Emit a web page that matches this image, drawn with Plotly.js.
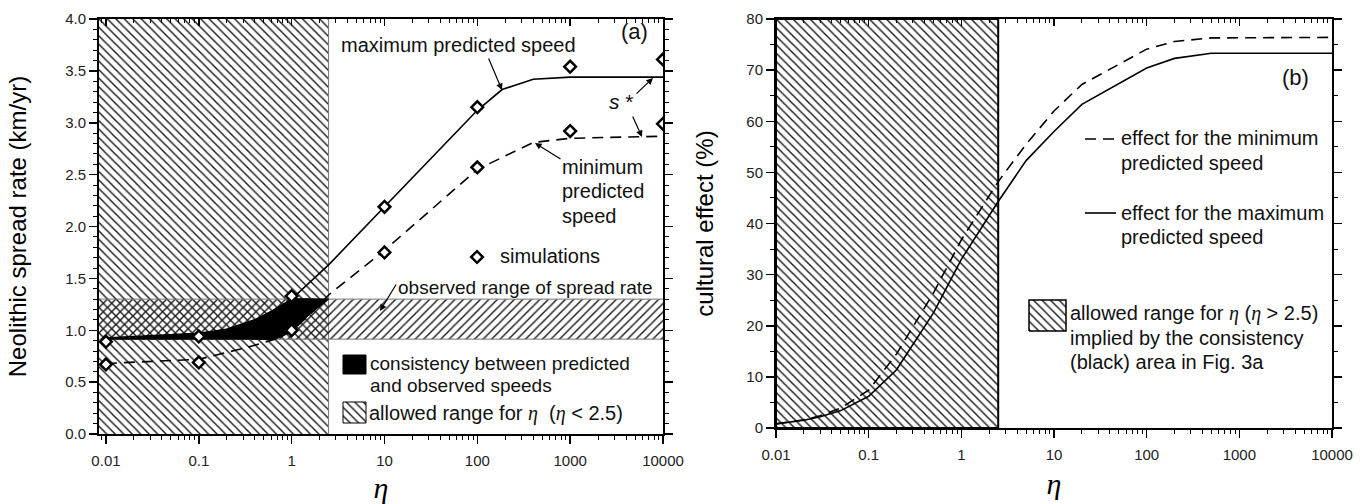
<!DOCTYPE html>
<html><head><meta charset="utf-8">
<script src="https://cdn.plot.ly/plotly-3.0.1.min.js"></script>
<style>body{margin:0;background:#fff}#chart{width:1372px;height:504px}</style>
</head><body><div id="chart"></div>
<script>
// ---------- data, panel (a) ----------
const etaSim   = [0.01, 0.1, 1, 10, 100, 1000, 10000];
const simUpper = [0.89, 0.94, 1.33, 2.19, 3.15, 3.54, 3.61];
const simLower = [0.67, 0.69, 1.00, 1.75, 2.57, 2.92, 2.99];
const etaMax   = [0.01, 0.1, 0.2, 0.4, 0.6, 0.84, 1, 2.5, 10, 100, 185, 400, 1000, 10000];
const speedMax = [0.925, 0.97, 1.01, 1.10, 1.18, 1.26, 1.30, 1.63, 2.19, 3.12, 3.32, 3.42, 3.44, 3.44];
const etaMin   = [0.01, 0.1, 0.35, 0.66, 1, 1.6, 2.5, 10, 100, 400, 1000, 10000];
const speedMin = [0.68, 0.72, 0.84, 0.914, 0.99, 1.16, 1.34, 1.77, 2.55, 2.81, 2.85, 2.87];
const observedRange = [0.914, 1.30];
const etaLimit = 2.5;
// ---------- data, panel (b) ----------
const etaB      = [0.01, 0.02, 0.03, 0.05, 0.1, 0.2, 0.5, 1, 2.5, 5, 10, 20, 100, 200, 500, 10000];
const effectMax = [0.8, 1.5, 2.2, 3.4, 6.2, 11.4, 22.5, 33.0, 44.3, 52.3, 58.0, 63.3, 70.4, 72.3, 73.3, 73.3];
const effectMin = [0.8, 1.6, 2.4, 3.9, 7.4, 14.5, 26.4, 36.8, 48.2, 55.5, 62.0, 67.2, 74.1, 75.6, 76.3, 76.4];
// ---------- ticks ----------
const majorVals = [0.01, 0.1, 1, 10, 100, 1000, 10000];
const majorText = ['0.01', '0.1', '1', '10', '100', '1000', '10000'];

const minorVals = [];
for (let d = -3; d <= 4; d++) for (let k = 2; k <= 9; k++) minorVals.push(k * Math.pow(10, d));

// ---------- geometry ----------
const W = 1372, H = 504, ml = 99, mr = 40, mt = 19, mb = 70;
const pw = W - ml - mr, ph = H - mt - mb;
const PX = x => (x - ml) / pw;
const PY = y => (H - mb - y) / ph;
const xRangeA = [-2.075, 4], xRangeB = [-2, 4];
const yRangeA = [0, 4], yRangeB = [0, 80];

const FONT = 'Arial, "Liberation Sans", sans-serif';
const SERIF = '"Liberation Serif", "Times New Roman", serif';
const ETA = '<span style="font-family:\'Liberation Serif\',serif"><i>η</i></span>';

function hatch(shape, size) {
  return {shape: shape, size: size || 6, solidity: 0.24, fgcolor: '#1a1a1a', bgcolor: 'rgba(0,0,0,0)', fillmode: 'replace'};
}
function rectXY(x0, x1, y0, y1) { return {x: [x0, x1, x1, x0, x0], y: [y0, y0, y1, y1, y0]}; }

const traces = [];
// allowed region (eta < 2.5), panel a
const lo = Math.pow(10, xRangeA[0] - 1), hi = Math.pow(10, xRangeA[1] + 1);
let r = rectXY(lo, etaLimit, yRangeA[0] - 1, yRangeA[1] + 1);
traces.push({x: r.x, y: r.y, xaxis: 'x', yaxis: 'y', mode: 'lines', fill: 'toself',
  fillcolor: 'rgba(0,0,0,0)', fillpattern: hatch('\\'), line: {color: '#777', width: 1}, hoverinfo: 'skip'});
// observed band
r = rectXY(lo, hi, observedRange[0], observedRange[1]);
traces.push({x: r.x, y: r.y, xaxis: 'x', yaxis: 'y', mode: 'lines', fill: 'toself',
  fillcolor: 'rgba(0,0,0,0)', fillpattern: hatch('/'), line: {color: '#777', width: 1}, hoverinfo: 'skip'});
// consistency area
const cx = [], cy = [];
etaMax.forEach((e, i) => { if (e <= etaLimit) { cx.push(e); cy.push(Math.min(Math.max(speedMax[i], observedRange[0]), observedRange[1])); } });
for (let i = etaMin.length - 1; i >= 0; i--) if (etaMin[i] <= etaLimit) { cx.push(etaMin[i]); cy.push(Math.min(Math.max(speedMin[i], observedRange[0]), observedRange[1])); }
traces.push({x: cx, y: cy, xaxis: 'x', yaxis: 'y', mode: 'lines', fill: 'toself', fillcolor: '#000',
  line: {color: '#000', width: 1, shape: 'spline', smoothing: 0.5}, hoverinfo: 'skip'});
// curves
traces.push({x: etaMax, y: speedMax, xaxis: 'x', yaxis: 'y', mode: 'lines', line: {color: '#000', width: 1.6}});
traces.push({x: etaMin, y: speedMin, xaxis: 'x', yaxis: 'y', mode: 'lines', line: {color: '#000', width: 1.6, dash: '11px,7px'}});
// simulations
const diamond = {symbol: 'diamond', size: 9, color: '#fff', line: {color: '#000', width: 2.5}};
traces.push({x: etaSim, y: simUpper, xaxis: 'x', yaxis: 'y', mode: 'markers', marker: diamond});
traces.push({x: etaSim, y: simLower, xaxis: 'x', yaxis: 'y', mode: 'markers', marker: diamond});

// panel b: allowed region
r = rectXY(Math.pow(10, xRangeB[0]), etaLimit, yRangeB[0], yRangeB[1]);
traces.push({x: r.x, y: r.y, xaxis: 'x2', yaxis: 'y2', mode: 'lines', fill: 'toself',
  fillcolor: 'rgba(0,0,0,0)', fillpattern: hatch('\\'), line: {color: '#000', width: 2}, hoverinfo: 'skip', cliponaxis: false});
traces.push({x: etaB, y: effectMin, xaxis: 'x2', yaxis: 'y2', mode: 'lines', line: {color: '#000', width: 1.6, dash: '11px,7px'}});
traces.push({x: etaB, y: effectMax, xaxis: 'x2', yaxis: 'y2', mode: 'lines', line: {color: '#000', width: 1.6}});

// top tick axes helper traces
traces.push({x: [1], y: [-100], xaxis: 'x4', yaxis: 'y', mode: 'lines', hoverinfo: 'skip'});
traces.push({x: [1], y: [-100], xaxis: 'x5', yaxis: 'y2', mode: 'lines', hoverinfo: 'skip'});

// ---- legend swatches in paper space (x3/y3 spans the whole plot area, range 0..1) ----
function swatch(x0, y0, x1, y1, pat, lineW) {
  const s = rectXY(PX(x0), PX(x1), PY(y1), PY(y0));
  traces.push({x: s.x, y: s.y, xaxis: 'x3', yaxis: 'y3', mode: 'lines', fill: 'toself',
    fillcolor: pat ? 'rgba(0,0,0,0)' : '#000', fillpattern: pat ? hatch(pat) : undefined,
    line: {color: '#000', width: lineW || 1}, hoverinfo: 'skip'});
}
swatch(343, 355, 366, 374, null);
swatch(343, 402, 366, 423, '\\');
swatch(1029, 300, 1066, 331, '\\', 1.5);
traces.push({x: [PX(477)], y: [PY(257)], xaxis: 'x3', yaxis: 'y3', mode: 'markers', marker: diamond});
traces.push({x: [PX(1085), PX(1117)], y: [PY(139), PY(139)], xaxis: 'x3', yaxis: 'y3', mode: 'lines', line: {color: '#000', width: 1.6, dash: '11px,7px'}});
traces.push({x: [PX(1085), PX(1116)], y: [PY(213), PY(213)], xaxis: 'x3', yaxis: 'y3', mode: 'lines', line: {color: '#000', width: 1.6}});

// ---------- annotations ----------
const ann = [];
function txt(text, x, y, size, anchor) {
  ann.push({text: text, xref: 'paper', yref: 'paper', x: PX(x), y: PY(y), xanchor: anchor || 'left', yanchor: 'middle',
    showarrow: false, font: {family: FONT, size: size || 20, color: '#111'}, borderpad: 0});
}
function arrow(hx, hy, tx, ty) {
  ann.push({text: '', xref: 'paper', yref: 'paper', x: PX(hx), y: PY(hy), ax: tx - hx, ay: ty - hy,
    showarrow: true, arrowhead: 2, arrowsize: 1.1, arrowwidth: 1.2, arrowcolor: '#000', standoff: 0, startstandoff: 0});
}
txt('maximum predicted speed', 340, 45);
txt('(a)', 634, 31, 22, 'center');
txt('<i>s</i> *', 621, 101, 21, 'center');
txt('minimum', 561, 167);
txt('predicted', 561, 191);
txt('speed', 561, 216);
txt('simulations', 499, 256);
txt('observed range of spread rate', 397, 287, 19);
txt('consistency between predicted', 369, 363, 19);
txt('and observed speeds', 369, 385, 19);
txt('allowed range for ' + ETA + '  (' + ETA + ' < 2.5)', 368, 413, 20);
arrow(502, 90, 488, 57);
arrow(653, 78, 635, 95);
arrow(642, 137, 632, 115);
arrow(535, 143, 562, 160);
arrow(380, 311, 397, 283);

txt('(b)', 1295, 78, 22, 'center');
txt('effect for the minimum', 1120, 138);
txt('predicted speed', 1120, 163);
txt('effect for the maximum', 1120, 213);
txt('predicted speed', 1120, 237);
txt('allowed range for ' + ETA + ' (' + ETA + ' > 2.5)', 1069, 313);
txt('implied by the consistency', 1069, 338);
txt('(black) area in Fig. 3a', 1069, 362);

// ---------- axes ----------
function xAx(domain, range, anchor) {
  return {domain: domain, range: range, type: 'log', anchor: anchor,
    tickmode: 'array', tickvals: majorVals, ticktext: majorText,
    ticks: 'outside', ticklen: 8, tickwidth: 1.5, tickcolor: '#000', ticklabelstandoff: 4,
    minor: {tickmode: 'array', tickvals: minorVals, ticks: 'outside', ticklen: 4, tickwidth: 1, tickcolor: '#000'},
    showline: true, linewidth: 2, linecolor: '#000', mirror: true, showgrid: false, zeroline: false,
    tickfont: {family: FONT, size: 15, color: '#222'},
    title: {text: '<i>η</i>', font: {family: SERIF, size: 30, color: '#000'}, standoff: 11}};
}
function xTop(overlay, range, anchor) {
  return {overlaying: overlay, anchor: anchor, side: 'top', range: range, type: 'log',
    tickmode: 'array', tickvals: majorVals, showticklabels: false,
    ticks: 'inside', ticklen: 7, tickwidth: 1.5, tickcolor: '#000',
    minor: {tickmode: 'array', tickvals: minorVals, ticks: 'inside', ticklen: 4, tickwidth: 1, tickcolor: '#000'},
    showline: false, showgrid: false, zeroline: false};
}
function yAx(domain, range, dtick, mdtick, fmt, title, anchor, standoff) {
  return {domain: domain, range: range, anchor: anchor, tick0: 0, dtick: dtick, tickformat: fmt,
    ticks: 'outside', ticklen: 8, tickwidth: 1.5, tickcolor: '#000',
    minor: {dtick: mdtick, tick0: 0, ticks: 'outside', ticklen: 4, tickwidth: 1, tickcolor: '#000'},
    showline: true, linewidth: 2, linecolor: '#000', mirror: 'ticks', showgrid: false, zeroline: false,
    tickfont: {family: FONT, size: 15, color: '#222'},
    title: {text: title, font: {family: FONT, size: 24, color: '#000'}, standoff: standoff}};
}

const layout = {
  width: W, height: H, margin: {l: ml, r: mr, t: mt, b: mb},
  paper_bgcolor: '#fff', plot_bgcolor: 'rgba(0,0,0,0)', showlegend: false,
  font: {family: FONT, color: '#111'},
  xaxis: xAx([0, PX(663)], xRangeA, 'y'),
  yaxis: yAx([0, 1], yRangeA, 0.5, 0.1, '.1f', 'Neolithic spread rate (km/yr)', 'x', 32),
  xaxis2: xAx([PX(776), 1], xRangeB, 'y2'),
  yaxis2: yAx([PY(428), 1], yRangeB, 10, 5, 'd', 'cultural effect (%)', 'x2', 26),
  xaxis3: {domain: [0, 1], range: [0, 1], visible: false, anchor: 'y3', fixedrange: true},
  yaxis3: {domain: [0, 1], range: [0, 1], visible: false, anchor: 'x3', fixedrange: true},
  xaxis4: xTop('x', xRangeA, 'y'),
  xaxis5: xTop('x2', xRangeB, 'y2'),
  annotations: ann
};

Plotly.newPlot('chart', traces, layout, {staticPlot: true});
</script>
</body></html>
